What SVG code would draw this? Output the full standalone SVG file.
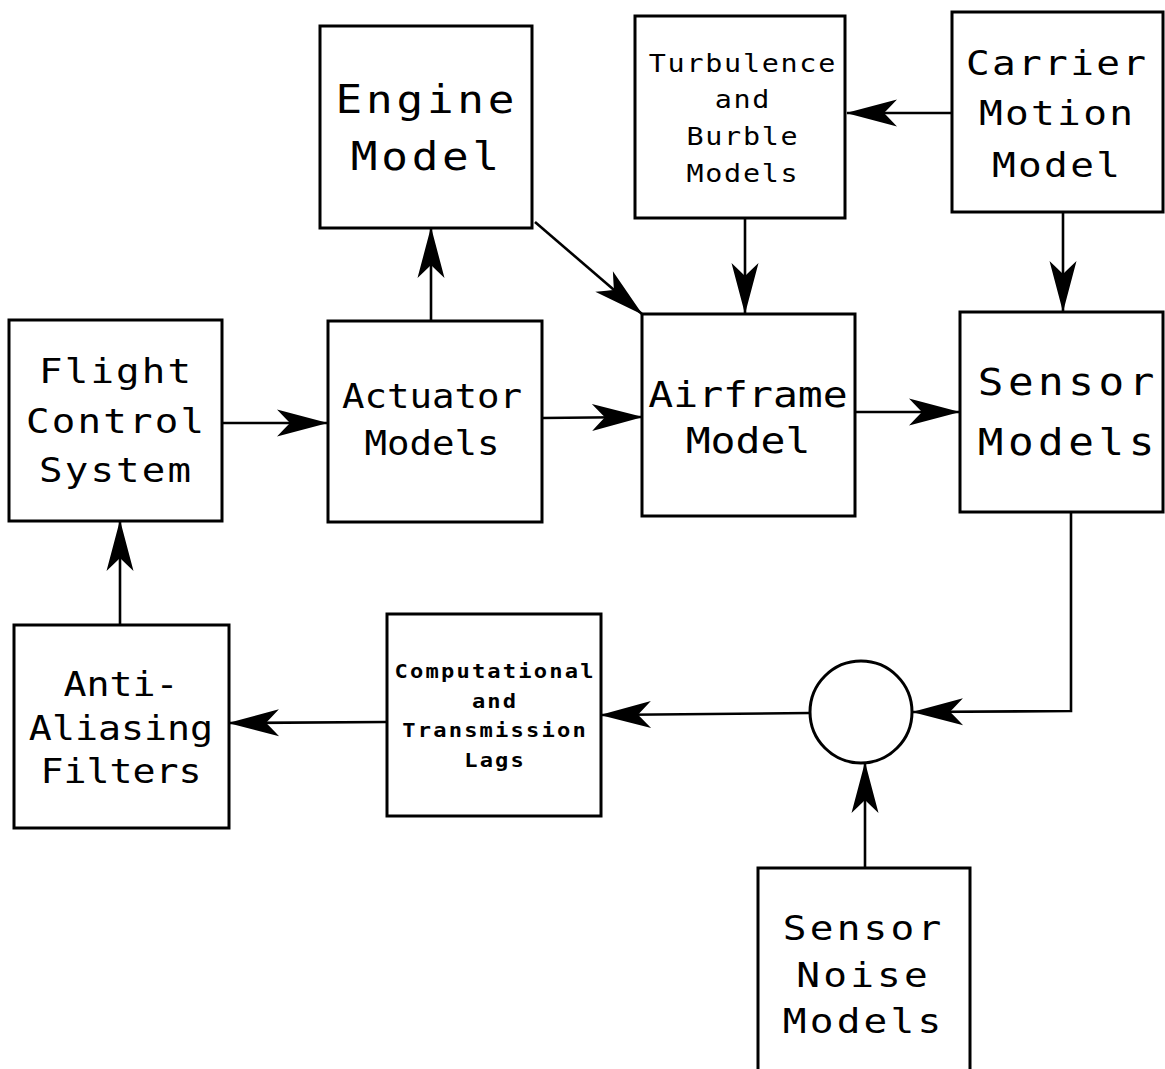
<svg xmlns="http://www.w3.org/2000/svg" width="1165" height="1069" viewBox="0 0 1165 1069">
<style>
.box{fill:#fff;stroke:#000;stroke-width:3}
.t{font-family:"DejaVu Sans Mono","Liberation Mono",monospace;fill:#000;text-anchor:middle}
.b{font-weight:bold}
.c{fill:none;stroke:#000;stroke-width:2.6}
</style>
<defs>
<marker id="ah" markerUnits="userSpaceOnUse" markerWidth="60" markerHeight="32" viewBox="-52 -16 54 32" refX="0" refY="0" orient="auto" overflow="visible">
<path d="M1,0 L-50,-13.5 Q-41,-4 -37,0 Q-41,4 -50,13.5 Z" fill="#000"/>
</marker>
</defs>
<rect width="1165" height="1069" fill="#fff"/>
<g id="connectors">
<line class="c" x1="222" y1="423" x2="327" y2="423" marker-end="url(#ah)"/>
<line class="c" x1="542" y1="418" x2="642" y2="417" marker-end="url(#ah)"/>
<line class="c" x1="431" y1="320" x2="431" y2="228" marker-end="url(#ah)"/>
<line class="c" x1="535" y1="222" x2="642" y2="314" marker-end="url(#ah)"/>
<line class="c" x1="745" y1="218" x2="745" y2="313" marker-end="url(#ah)"/>
<line class="c" x1="951" y1="113" x2="847" y2="113" marker-end="url(#ah)"/>
<line class="c" x1="1063" y1="212" x2="1063" y2="311" marker-end="url(#ah)"/>
<line class="c" x1="856" y1="412" x2="959" y2="412" marker-end="url(#ah)"/>
<polyline class="c" points="1071,512 1071,711 913,712" marker-end="url(#ah)"/>
<line class="c" x1="865" y1="868" x2="865" y2="763" marker-end="url(#ah)"/>
<line class="c" x1="810" y1="713" x2="601" y2="715" marker-end="url(#ah)"/>
<line class="c" x1="386" y1="722" x2="229" y2="723" marker-end="url(#ah)"/>
<line class="c" x1="120" y1="625" x2="120" y2="521" marker-end="url(#ah)"/>
</g>
<g id="flight-control-system">
<rect class="box" x="9" y="320" width="213" height="201"/>
<text class="t" font-size="34" letter-spacing="1.9" transform="translate(116.1,0) scale(1.15,1)"><tspan x="0" y="383">Flight</tspan><tspan x="0" y="433">Control</tspan><tspan x="0" y="482">System</tspan></text>
</g>
<g id="actuator-models">
<rect class="box" x="328" y="321" width="214" height="201"/>
<text class="t" font-size="34" transform="translate(432,0) scale(1.1,1)"><tspan x="0" y="408">Actuator</tspan><tspan x="0" y="455">Models</tspan></text>
</g>
<g id="engine-model">
<rect class="box" x="320" y="26" width="212" height="202"/>
<text class="t" font-size="38.5" letter-spacing="3.3" transform="translate(426.9,0) scale(1.15,1)"><tspan x="0" y="113">Engine</tspan><tspan x="0" y="170">Model</tspan></text>
</g>
<g id="turbulence-burble-models">
<rect class="box" x="635" y="16" width="210" height="202"/>
<text class="t" font-size="24.7" letter-spacing="1.5" transform="translate(742.9,0) scale(1.15,1)"><tspan x="0" y="72">Turbulence</tspan><tspan x="0" y="108">and</tspan><tspan x="0" y="145">Burble</tspan><tspan x="0" y="182">Models</tspan></text>
</g>
<g id="carrier-motion-model">
<rect class="box" x="952" y="12" width="211" height="200"/>
<text class="t" font-size="34.3" letter-spacing="2" transform="translate(1057.1,0) scale(1.15,1)"><tspan x="0" y="75">Carrier</tspan><tspan x="0" y="125">Motion</tspan><tspan x="0" y="177">Model</tspan></text>
</g>
<g id="airframe-model">
<rect class="box" x="642" y="314" width="213" height="202"/>
<text class="t" font-size="35.7" transform="translate(748,0) scale(1.16,1)"><tspan x="0" y="407">Airframe</tspan><tspan x="0" y="453">Model</tspan></text>
</g>
<g id="sensor-models">
<rect class="box" x="960" y="312" width="203" height="200"/>
<text class="t" font-size="37" letter-spacing="4" transform="translate(1068.3,0) scale(1.15,1)"><tspan x="0" y="395">Sensor</tspan><tspan x="0" y="455">Models</tspan></text>
</g>
<g id="anti-aliasing-filters">
<rect class="box" x="14" y="625" width="215" height="203"/>
<text class="t" font-size="33" transform="translate(121,0) scale(1.16,1)"><tspan x="0" y="696">Anti-</tspan><tspan x="0" y="740">Aliasing</tspan><tspan x="0" y="783">Filters</tspan></text>
</g>
<g id="computational-transmission-lags">
<rect class="box" x="387" y="614" width="214" height="202"/>
<text class="t b" font-size="19.2" letter-spacing="1.9" transform="translate(495.1,0) scale(1.15,1)"><tspan x="0" y="678">Computational</tspan><tspan x="0" y="708">and</tspan><tspan x="0" y="737">Transmission</tspan><tspan x="0" y="767">Lags</tspan></text>
</g>
<g id="summing-junction">
<circle class="box" cx="861" cy="712" r="51"/>
</g>
<g id="sensor-noise-models">
<rect class="box" x="758" y="868" width="212" height="215"/>
<text class="t" font-size="34.3" letter-spacing="2.8" transform="translate(863.6,0) scale(1.15,1)"><tspan x="0" y="940">Sensor</tspan><tspan x="0" y="987">Noise</tspan><tspan x="0" y="1033">Models</tspan></text>
</g>
</svg>
